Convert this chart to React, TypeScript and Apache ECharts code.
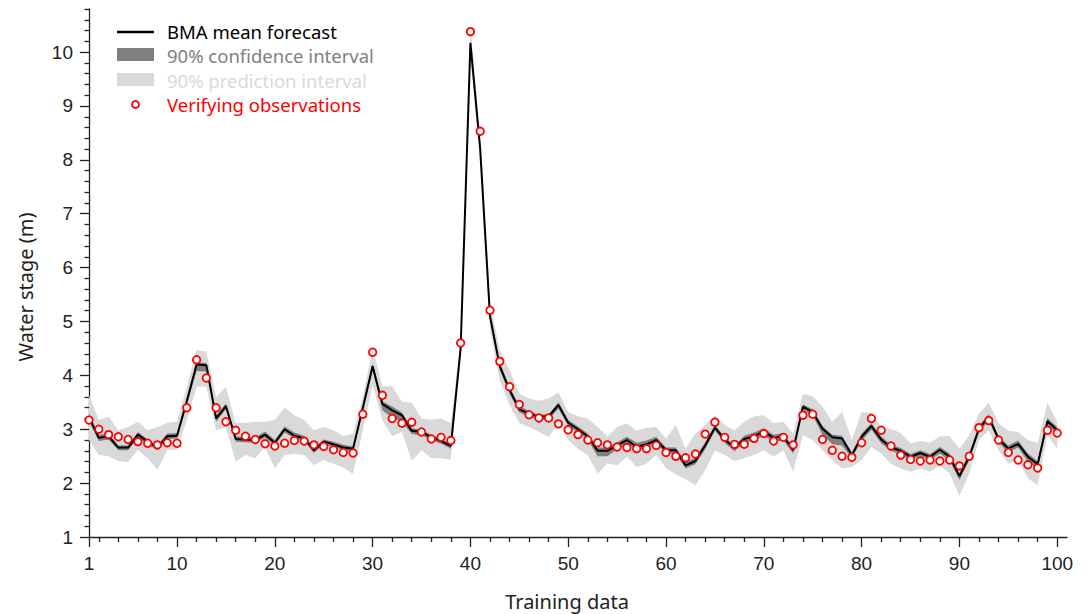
import React, { useEffect, useRef } from "react";
import * as echarts from "echarts";

const trainingIndex: number[] = Array.from({ length: 100 }, (_, i) => i + 1);

const meanForecast: number[] = [
  3.22, 2.84, 2.87, 2.66, 2.66, 2.90, 2.77, 2.66, 2.87, 2.88,
  3.52, 4.20, 4.19, 3.20, 3.43, 2.82, 2.81, 2.80, 2.90, 2.75,
  3.00, 2.88, 2.83, 2.61, 2.77, 2.72, 2.66, 2.64, 3.40, 4.17,
  3.47, 3.35, 3.26, 2.97, 2.95, 2.85, 2.78, 2.69, 4.50, 10.17,
  8.20, 5.10, 4.17, 3.73, 3.37, 3.29, 3.23, 3.24, 3.45, 3.12,
  3.00, 2.87, 2.60, 2.60, 2.70, 2.80, 2.67, 2.72, 2.80, 2.61,
  2.61, 2.33, 2.41, 2.70, 3.03, 2.81, 2.65, 2.82, 2.87, 2.96,
  2.84, 2.87, 2.61, 3.42, 3.32, 3.01, 2.85, 2.83, 2.52, 2.86,
  3.06, 2.81, 2.66, 2.60, 2.49, 2.56, 2.49, 2.62, 2.49, 2.13,
  2.49, 3.01, 3.23, 2.82, 2.64, 2.73, 2.49, 2.35, 3.15, 2.98,
];

const ciHigh: number[] = [
  3.30, 2.90, 2.92, 2.70, 2.70, 2.95, 2.81, 2.70, 2.92, 2.93,
  3.58, 4.24, 4.23, 3.26, 3.48, 2.87, 2.85, 2.85, 2.96, 2.80,
  3.05, 2.94, 2.88, 2.66, 2.81, 2.77, 2.71, 2.68, 3.46, 4.22,
  3.52, 3.42, 3.31, 3.02, 2.99, 2.90, 2.82, 2.73, 4.55, 10.22,
  8.25, 5.16, 4.23, 3.79, 3.43, 3.34, 3.27, 3.28, 3.50, 3.17,
  3.05, 2.92, 2.66, 2.66, 2.76, 2.86, 2.75, 2.79, 2.86, 2.66,
  2.66, 2.39, 2.47, 2.76, 3.08, 2.86, 2.70, 2.88, 2.94, 3.02,
  2.90, 2.93, 2.66, 3.46, 3.37, 3.06, 2.90, 2.88, 2.57, 2.92,
  3.11, 2.87, 2.71, 2.65, 2.54, 2.61, 2.54, 2.67, 2.55, 2.19,
  2.55, 3.07, 3.28, 2.87, 2.70, 2.79, 2.55, 2.41, 3.21, 3.04,
];

const ciLow: number[] = [
  3.15, 2.78, 2.81, 2.61, 2.61, 2.84, 2.72, 2.61, 2.82, 2.83,
  3.45, 4.08, 4.07, 3.14, 3.37, 2.77, 2.76, 2.75, 2.84, 2.70,
  2.94, 2.83, 2.78, 2.56, 2.72, 2.67, 2.61, 2.59, 3.33, 4.10,
  3.35, 3.22, 3.14, 2.91, 2.89, 2.80, 2.73, 2.64, 4.44, 10.10,
  8.14, 5.03, 4.10, 3.66, 3.31, 3.23, 3.17, 3.18, 3.38, 3.06,
  2.94, 2.81, 2.50, 2.50, 2.63, 2.74, 2.61, 2.66, 2.74, 2.55,
  2.55, 2.27, 2.35, 2.63, 2.97, 2.75, 2.59, 2.75, 2.79, 2.88,
  2.77, 2.79, 2.55, 3.36, 3.25, 2.90, 2.72, 2.70, 2.46, 2.79,
  2.99, 2.74, 2.60, 2.53, 2.43, 2.50, 2.43, 2.55, 2.42, 2.06,
  2.42, 2.94, 3.16, 2.75, 2.57, 2.66, 2.40, 2.26, 3.08, 2.91,
];

const piHigh: number[] = [
  3.63, 3.17, 3.23, 2.98, 3.04, 3.14, 2.98, 3.04, 3.12, 3.14,
  3.79, 4.47, 4.44, 3.60, 3.79, 3.11, 3.12, 3.14, 3.14, 3.17,
  3.40, 3.26, 3.17, 2.98, 3.04, 2.98, 2.87, 2.92, 3.60, 4.50,
  3.80, 3.80, 3.51, 3.49, 3.20, 3.18, 3.20, 3.11, 4.65, 10.50,
  8.40, 5.35, 4.47, 4.10, 3.66, 3.57, 3.53, 3.57, 3.68, 3.32,
  3.24, 3.20, 3.04, 2.87, 3.04, 3.11, 2.97, 3.03, 3.04, 2.83,
  3.08, 2.64, 2.92, 3.08, 3.26, 3.08, 2.98, 3.14, 3.24, 3.26,
  3.11, 3.14, 2.92, 3.66, 3.61, 3.42, 3.14, 3.32, 2.80, 3.32,
  3.30, 3.04, 3.01, 2.93, 2.74, 2.78, 2.75, 2.87, 2.87, 2.64,
  2.89, 3.29, 3.49, 3.11, 2.97, 2.95, 2.80, 2.74, 3.49, 3.14,
];

const piLow: number[] = [
  2.80, 2.52, 2.50, 2.41, 2.39, 2.62, 2.46, 2.25, 2.61, 2.62,
  3.17, 3.79, 3.79, 2.98, 3.04, 2.39, 2.52, 2.46, 2.67, 2.27,
  2.52, 2.54, 2.52, 2.33, 2.43, 2.36, 2.29, 2.17, 2.98, 3.82,
  3.16, 2.87, 2.95, 2.41, 2.61, 2.46, 2.46, 2.44, 4.35, 9.90,
  8.00, 4.84, 3.91, 3.45, 3.11, 3.04, 2.95, 2.86, 3.11, 2.80,
  2.64, 2.52, 2.17, 2.37, 2.33, 2.49, 2.30, 2.36, 2.52, 2.28,
  2.16, 2.07, 1.96, 2.24, 2.61, 2.52, 2.41, 2.46, 2.52, 2.61,
  2.49, 2.61, 2.21, 2.89, 2.80, 2.61, 2.43, 2.27, 2.30, 2.43,
  2.67, 2.55, 2.36, 2.27, 2.21, 2.27, 2.21, 2.33, 2.18, 1.76,
  2.18, 2.80, 2.98, 2.61, 2.36, 2.43, 2.09, 1.96, 2.89, 2.64,
];

const observations: number[] = [
  3.17, 3.00, 2.90, 2.86, 2.81, 2.77, 2.74, 2.71, 2.75, 2.74,
  3.40, 4.29, 3.95, 3.40, 3.14, 2.98, 2.87, 2.81, 2.73, 2.69,
  2.74, 2.79, 2.78, 2.71, 2.68, 2.62, 2.57, 2.56, 3.28, 4.43,
  3.63, 3.20, 3.11, 3.13, 2.95, 2.82, 2.85, 2.79, 4.60, 10.38,
  8.53, 5.21, 4.26, 3.79, 3.46, 3.27, 3.21, 3.21, 3.10, 2.99,
  2.90, 2.80, 2.75, 2.71, 2.67, 2.66, 2.64, 2.64, 2.70, 2.57,
  2.50, 2.47, 2.54, 2.91, 3.13, 2.85, 2.72, 2.72, 2.83, 2.92,
  2.78, 2.85, 2.71, 3.26, 3.28, 2.81, 2.61, 2.50, 2.48, 2.75,
  3.20, 2.98, 2.69, 2.52, 2.44, 2.41, 2.43, 2.41, 2.43, 2.32,
  2.50, 3.03, 3.16, 2.80, 2.57, 2.43, 2.34, 2.28, 2.98, 2.93,
];

const xMajorTicks: number[] = [1, 10, 20, 30, 40, 50, 60, 70, 80, 90, 100];
const yMajorTicks: number[] = [1, 2, 3, 4, 5, 6, 7, 8, 9, 10];

const legendLabels = [
  "BMA mean forecast",
  "90% confidence interval",
  "90% prediction interval",
  "Verifying observations",
];

const xMinorTicks: number[] = [];
for (let v = 2; v <= 100; v += 2) if (v % 10 !== 0) xMinorTicks.push(v);
const yMinorTicks: number[] = [];
for (let k = 6; k <= 54; k++) if (k % 5 !== 0) yMinorTicks.push(Math.round(k * 20) / 100);

const GRID = { left: 89, right: 21, top: 9, bottom: 77 };
const TICK_FONT = "Liberation Sans, Arial, sans-serif";
const TEXT_FONT = "Noto Sans, Open Sans, sans-serif";

function bandSeries(low: number[], high: number[], fill: string, z: number) {
  return {
    type: "custom",
    data: trainingIndex.map((x, i) => [x, low[i], high[i]]),
    encode: { x: 0, y: [1, 2] },
    silent: true,
    z,
    renderItem: (params: any, api: any) => {
      if (params.dataIndex !== 0) return null;
      const top = trainingIndex.map((x, i) => api.coord([x, high[i]]));
      const bottom = trainingIndex.map((x, i) => api.coord([x, low[i]])).reverse();
      return {
        type: "polygon",
        shape: { points: top.concat(bottom) },
        style: { fill, stroke: "none" },
      };
    },
  };
}

export default function App() {
  const ref = useRef<HTMLDivElement>(null);

  useEffect(() => {
    if (!ref.current) return;
    const chart = echarts.init(ref.current, undefined, { renderer: "svg" });

    const pair = (arr: number[]) => trainingIndex.map((x, i) => [x, arr[i]]);
    const axisColor = "#222";
    const legendText = (i: number, y: number, fill: string) => ({
      type: "text",
      x: 167,
      y,
      style: {
        text: legendLabels[i],
        fill,
        font: `18.5px ${TEXT_FONT}`,
        lineHeight: 18,
        verticalAlign: "middle",
      },
    });

    chart.setOption({
      animation: false,
      grid: [
        { ...GRID, containLabel: false },
        { ...GRID, containLabel: false },
      ],
      xAxis: [
        {
          type: "value",
          gridIndex: 0,
          min: 1,
          max: 101,
          axisLine: { show: true, onZero: false, lineStyle: { color: axisColor, width: 1.3 } },
          axisTick: { show: true, customValues: xMajorTicks, length: 10, lineStyle: { color: axisColor, width: 1.3 } },
          axisLabel: { customValues: xMajorTicks, color: "#222", fontSize: 19, fontFamily: TICK_FONT, margin: 17 },
          splitLine: { show: false },
        },
        {
          type: "value",
          gridIndex: 1,
          min: 1,
          max: 101,
          axisLine: { show: false },
          axisTick: { show: true, customValues: xMinorTicks, length: 5, lineStyle: { color: axisColor, width: 1.3 } },
          axisLabel: { show: false },
          splitLine: { show: false },
        },
      ],
      yAxis: [
        {
          type: "value",
          gridIndex: 0,
          min: 1,
          max: 10.8,
          interval: 1,
          axisLine: { show: true, onZero: false, lineStyle: { color: axisColor, width: 1.3 } },
          axisTick: { show: true, customValues: yMajorTicks, length: 9, lineStyle: { color: axisColor, width: 1.3 } },
          axisLabel: { customValues: yMajorTicks, color: "#222", fontSize: 19, fontFamily: TICK_FONT, margin: 16 },
          splitLine: { show: false },
        },
        {
          type: "value",
          gridIndex: 1,
          min: 1,
          max: 10.8,
          axisLine: { show: false },
          axisTick: { show: true, customValues: yMinorTicks, length: 4.5, lineStyle: { color: axisColor, width: 1.3 } },
          axisLabel: { show: false },
          splitLine: { show: false },
        },
      ],
      series: [
        bandSeries(piLow, piHigh, "#d9d9d9", 1),
        bandSeries(ciLow, ciHigh, "#7f7f7f", 2),
        {
          type: "line",
          data: pair(meanForecast),
          symbol: "none",
          lineStyle: { color: "#000", width: 2 },
          z: 3,
        },
        {
          type: "scatter",
          data: pair(observations),
          symbol: "circle",
          symbolSize: 7.5,
          itemStyle: { color: "#fff", borderColor: "#ff0000", borderWidth: 1.8, opacity: 1 },
          z: 4,
        },
      ],
      graphic: [
        { type: "line", shape: { x1: 117, y1: 32, x2: 154, y2: 32 }, style: { stroke: "#000", lineWidth: 2.5 } },
        { type: "rect", shape: { x: 117, y: 48, width: 37, height: 13 }, style: { fill: "#808080" } },
        { type: "rect", shape: { x: 117, y: 73, width: 37, height: 13 }, style: { fill: "#d9d9d9" } },
        { type: "circle", shape: { cx: 135.5, cy: 104.5, r: 3.5 }, style: { fill: "#fff", stroke: "#ff0000", lineWidth: 1.8 } },
        legendText(0, 31, "#000"),
        legendText(1, 55.5, "#808080"),
        legendText(2, 80, "#d9d9d9"),
        legendText(3, 104.5, "#ff0000"),
        {
          type: "text", x: 567, y: 601,
          style: { text: "Training data", fill: "#222", font: `20px ${TEXT_FONT}`, align: "center", verticalAlign: "middle" },
        },
        {
          type: "text", x: 25, y: 287, rotation: Math.PI / 2,
          style: { text: "Water stage (m)", fill: "#222", font: `20px ${TEXT_FONT}`, align: "center", verticalAlign: "middle" },
        },
      ],
    });

    return () => chart.dispose();
  }, []);

  return (
    <div
      ref={ref}
      style={{ position: "absolute", left: 0, top: 0, width: 1088, height: 614, background: "#fff" }}
    />
  );
}
